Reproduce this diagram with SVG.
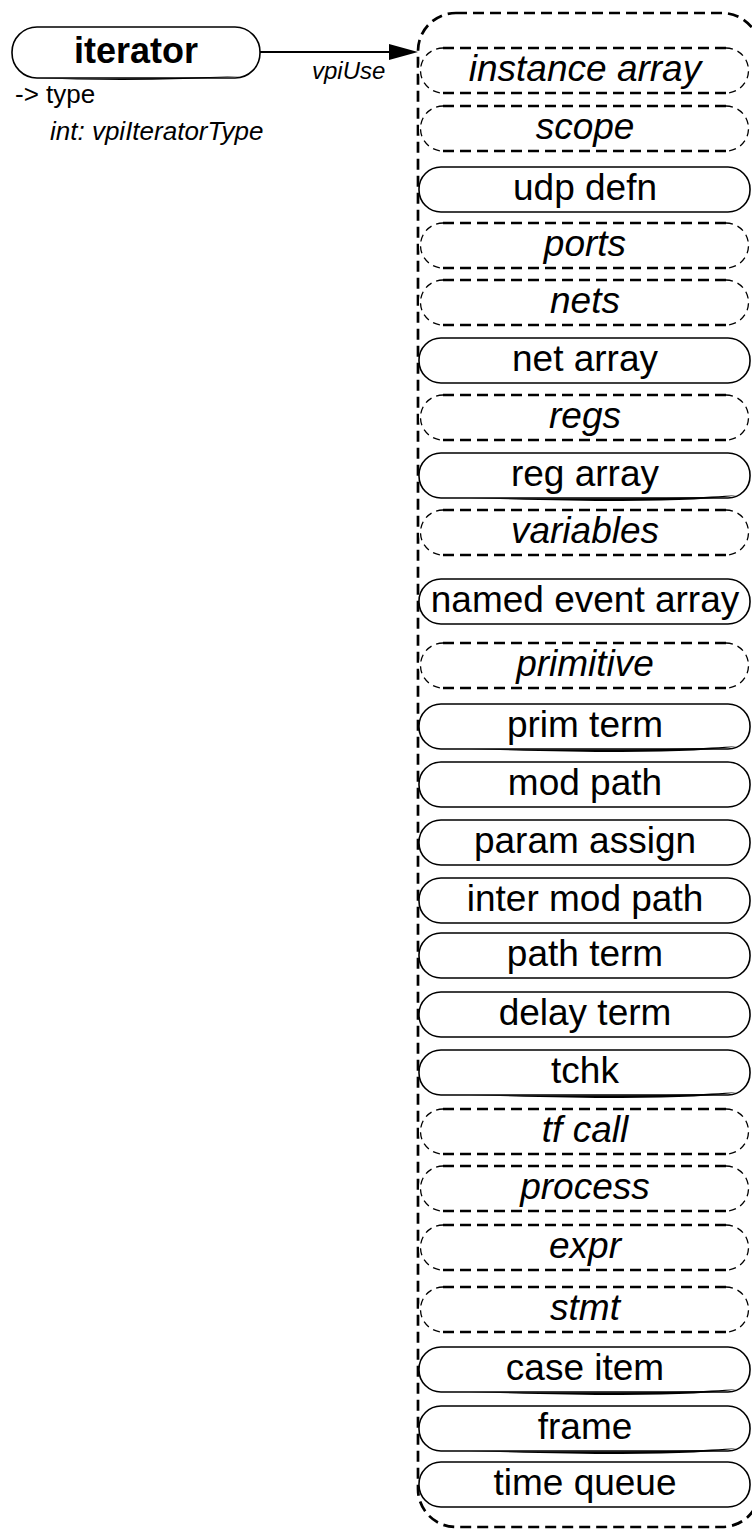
<svg xmlns="http://www.w3.org/2000/svg" xmlns:xlink="http://www.w3.org/1999/xlink" width="752" height="1529" viewBox="0 0 752 1529">
<style>
.bg{fill:#fff;stroke:none}
.solid{fill:#fff;stroke:#000;stroke-width:1.6}
.dl{fill:none;stroke:#000;stroke-width:2.7;stroke-dasharray:11,6}
.da{fill:none;stroke:#000;stroke-width:1.3;stroke-dasharray:7,5}
.cont{fill:none;stroke:#000;stroke-width:2.7;stroke-dasharray:11,6}
.lbl{font-family:"Liberation Sans",Arial,sans-serif;font-size:37px;text-anchor:middle;fill:#000}
.it{font-style:italic}
.sw{fill:#000;stroke:none}
.attr{font-family:"Liberation Sans",Arial,sans-serif;font-size:26px;fill:#000}
</style>
<defs>
<g id="dn">
<rect class="bg" x="0" y="0" width="331" height="45" rx="22"/>
<path class="dl" d="M24,0 H307 M24,45 H307"/>
<path class="da" d="M24,0 A22.5,22.5 0 0 0 24,45 M307,0 A22.5,22.5 0 0 1 307,45"/>
</g>
<rect id="sn" class="solid" x="0" y="0" width="331" height="45" rx="22"/>
<path id="swo" class="sw" d="M50,45 Q260,47 318,42 Q270,52 50,45 Z"/>
</defs>
<rect width="752" height="1529" fill="#fff"/>
<g id="container">
<rect class="cont" x="418" y="13" width="342" height="1514" rx="38" ry="38"/>
</g>
<g id="iterator">
<rect class="solid" x="12" y="27" width="248" height="51" rx="25" ry="25"/>
<path class="sw" d="M32,78 Q140,83 245,76 Q140,80 32,78 Z"/>
<text class="lbl" x="136" y="63" style="font-weight:bold;font-size:36px">iterator</text>
<text class="attr" x="15" y="103">-&gt; type</text>
<text class="attr it" x="50" y="140">int: vpiIteratorType</text>
</g>
<g id="connectors">
<line x1="260" y1="52" x2="392" y2="52" stroke="#000" stroke-width="2.2"/>
<polygon points="389,44 418,52 389,60" fill="#000"/>
<text class="attr it" x="312" y="79" style="font-size:24px">vpiUse</text>
</g>
<g id="n1" transform="translate(419,48)"><use xlink:href="#dn"/><text class="lbl it" x="166" y="33">instance array</text></g>
<g id="n2" transform="translate(419,106)"><use xlink:href="#dn"/><text class="lbl it" x="166" y="33">scope</text></g>
<g id="n3" transform="translate(419,167)"><use xlink:href="#sn"/><text class="lbl" x="166" y="33">udp defn</text></g>
<g id="n4" transform="translate(419,223)"><use xlink:href="#dn"/><text class="lbl it" x="166" y="33">ports</text></g>
<g id="n5" transform="translate(419,280)"><use xlink:href="#dn"/><text class="lbl it" x="166" y="33">nets</text></g>
<g id="n6" transform="translate(419,338)"><use xlink:href="#sn"/><text class="lbl" x="166" y="33">net array</text></g>
<g id="n7" transform="translate(419,395)"><use xlink:href="#dn"/><text class="lbl it" x="166" y="33">regs</text></g>
<g id="n8" transform="translate(419,453)"><use xlink:href="#sn"/><use xlink:href="#swo"/><text class="lbl" x="166" y="33">reg array</text></g>
<g id="n9" transform="translate(419,510)"><use xlink:href="#dn"/><text class="lbl it" x="166" y="33">variables</text></g>
<g id="n10" transform="translate(419,579)"><use xlink:href="#sn"/><text class="lbl" x="166" y="33">named event array</text></g>
<g id="n11" transform="translate(419,643)"><use xlink:href="#dn"/><text class="lbl it" x="166" y="33">primitive</text></g>
<g id="n12" transform="translate(419,704)"><use xlink:href="#sn"/><use xlink:href="#swo"/><text class="lbl" x="166" y="33">prim term</text></g>
<g id="n13" transform="translate(419,762)"><use xlink:href="#sn"/><text class="lbl" x="166" y="33">mod path</text></g>
<g id="n14" transform="translate(419,820)"><use xlink:href="#sn"/><text class="lbl" x="166" y="33">param assign</text></g>
<g id="n15" transform="translate(419,878)"><use xlink:href="#sn"/><text class="lbl" x="166" y="33">inter mod path</text></g>
<g id="n16" transform="translate(419,933)"><use xlink:href="#sn"/><text class="lbl" x="166" y="33">path term</text></g>
<g id="n17" transform="translate(419,992)"><use xlink:href="#sn"/><text class="lbl" x="166" y="33">delay term</text></g>
<g id="n18" transform="translate(419,1050)"><use xlink:href="#sn"/><use xlink:href="#swo"/><text class="lbl" x="166" y="33">tchk</text></g>
<g id="n19" transform="translate(419,1109)"><use xlink:href="#dn"/><text class="lbl it" x="166" y="33">tf call</text></g>
<g id="n20" transform="translate(419,1166)"><use xlink:href="#dn"/><text class="lbl it" x="166" y="33">process</text></g>
<g id="n21" transform="translate(419,1225)"><use xlink:href="#dn"/><text class="lbl it" x="166" y="33">expr</text></g>
<g id="n22" transform="translate(419,1287)"><use xlink:href="#dn"/><text class="lbl it" x="166" y="33">stmt</text></g>
<g id="n23" transform="translate(419,1347)"><use xlink:href="#sn"/><use xlink:href="#swo"/><text class="lbl" x="166" y="33">case item</text></g>
<g id="n24" transform="translate(419,1406)"><use xlink:href="#sn"/><use xlink:href="#swo"/><text class="lbl" x="166" y="33">frame</text></g>
<g id="n25" transform="translate(419,1462)"><use xlink:href="#sn"/><text class="lbl" x="166" y="33">time queue</text></g>
</svg>
